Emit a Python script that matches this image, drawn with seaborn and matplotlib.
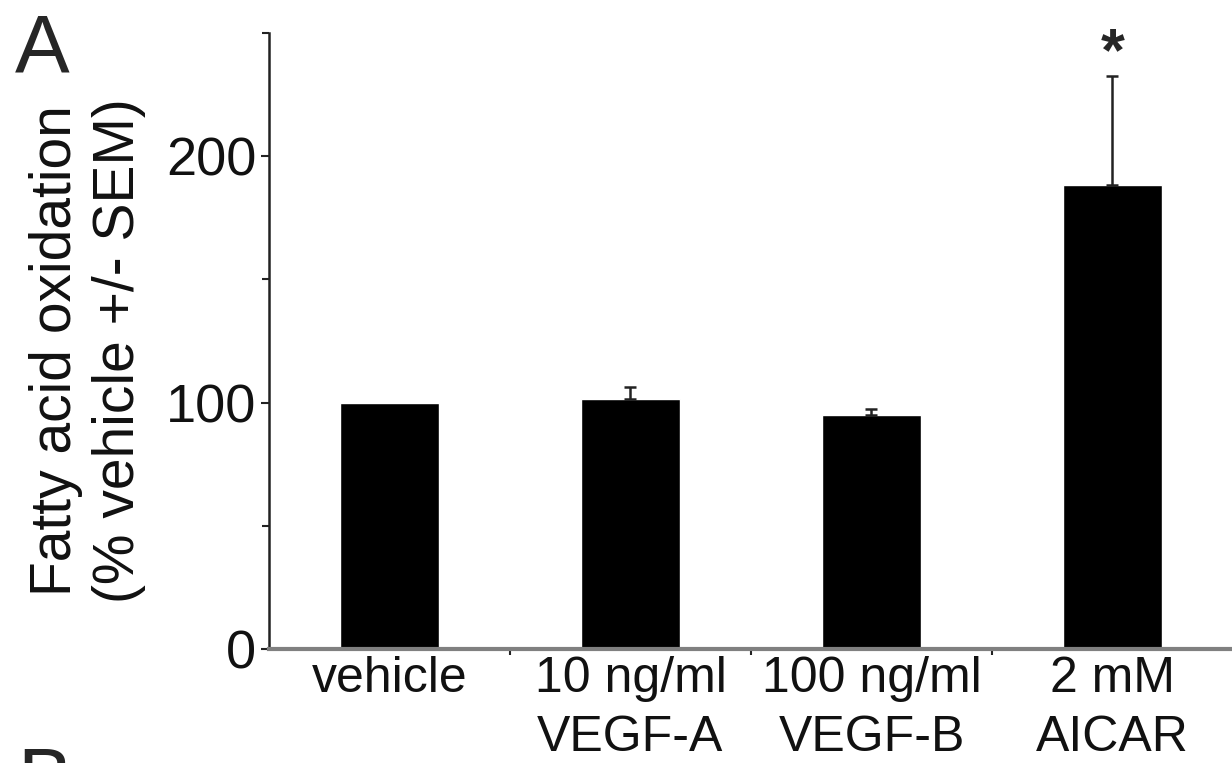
import numpy as np
import matplotlib.pyplot as plt
import seaborn as sns

# values
treatments = ['vehicle', '10 ng/ml\nVEGF-A', '100 ng/ml\nVEGF-B', '2 mM\nAICAR']
oxidation = [100, 101.5, 95, 188.5]
sem = [0, 5, 2.5, 44]
y_ticks = [0, 100, 200]
y_minor = [50, 150, 250]


def main():
    sns.set_style('ticks')
    plt.rcParams['font.family'] = ['Liberation Sans', 'DejaVu Sans']

    fig = plt.figure(figsize=(12.32, 7.63), dpi=100)
    ax = fig.add_axes([0.2183, 0.1494, 0.7825, 0.8073])

    sns.barplot(x=treatments, y=oxidation, color='black', saturation=1,
                width=0.41, errorbar=None, ax=ax)

    # upper-only SEM bars
    pos = np.arange(len(treatments))
    has_err = np.array(sem) > 0
    ax.errorbar(pos[has_err], np.array(oxidation)[has_err],
                yerr=[np.zeros(has_err.sum()), np.array(sem)[has_err]],
                fmt='none', ecolor='#222222', elinewidth=1.8,
                capsize=4.5, capthick=1.8)

    ax.text(3, 235, '*', ha='center', va='baseline', fontsize=44,
            fontweight='bold', clip_on=False)

    ax.set_xlim(-0.5, 3.5)
    ax.set_ylim(0, 250)
    ax.set_yticks(y_ticks)
    ax.set_yticks(y_minor, minor=True)
    ax.set_xticks([0.5, 1.5, 2.5], minor=True)

    ax.tick_params(axis='x', which='major', length=0, pad=5, labelsize=36,
                   labelcolor='#111111')
    ax.tick_params(axis='x', which='minor', length=4, width=1.5,
                   color='#222222', direction='out')
    ax.tick_params(axis='y', which='major', length=6, width=1.5, pad=3,
                   labelsize=39, color='#222222', labelcolor='#111111')
    ax.tick_params(axis='y', which='minor', length=5, width=1.5,
                   color='#222222')
    for lab in ax.get_xticklabels():
        lab.set_linespacing(1.35)

    sns.despine(ax=ax)
    ax.spines['left'].set_color('#222222')
    ax.spines['left'].set_linewidth(1.8)
    ax.spines['bottom'].set_color('#808080')
    ax.spines['bottom'].set_linewidth(3)

    ax.set_xlabel('')
    ax.set_ylabel('Fatty acid oxidation\n(% vehicle +/- SEM)', fontsize=41,
                  color='#111111')
    ax.yaxis.label.set_multialignment('center')
    ax.yaxis.set_label_coords(-0.128, 0.485)

    fig.text(15 / 1232, 1 - 13 / 763, 'A', fontsize=59, va='top', ha='left')
    fig.text(17 / 1232, 1 - 746 / 763, 'B', fontsize=59, va='top',
             ha='left')

    fig.savefig('out.png', dpi=100)


if __name__ == '__main__':
    main()
